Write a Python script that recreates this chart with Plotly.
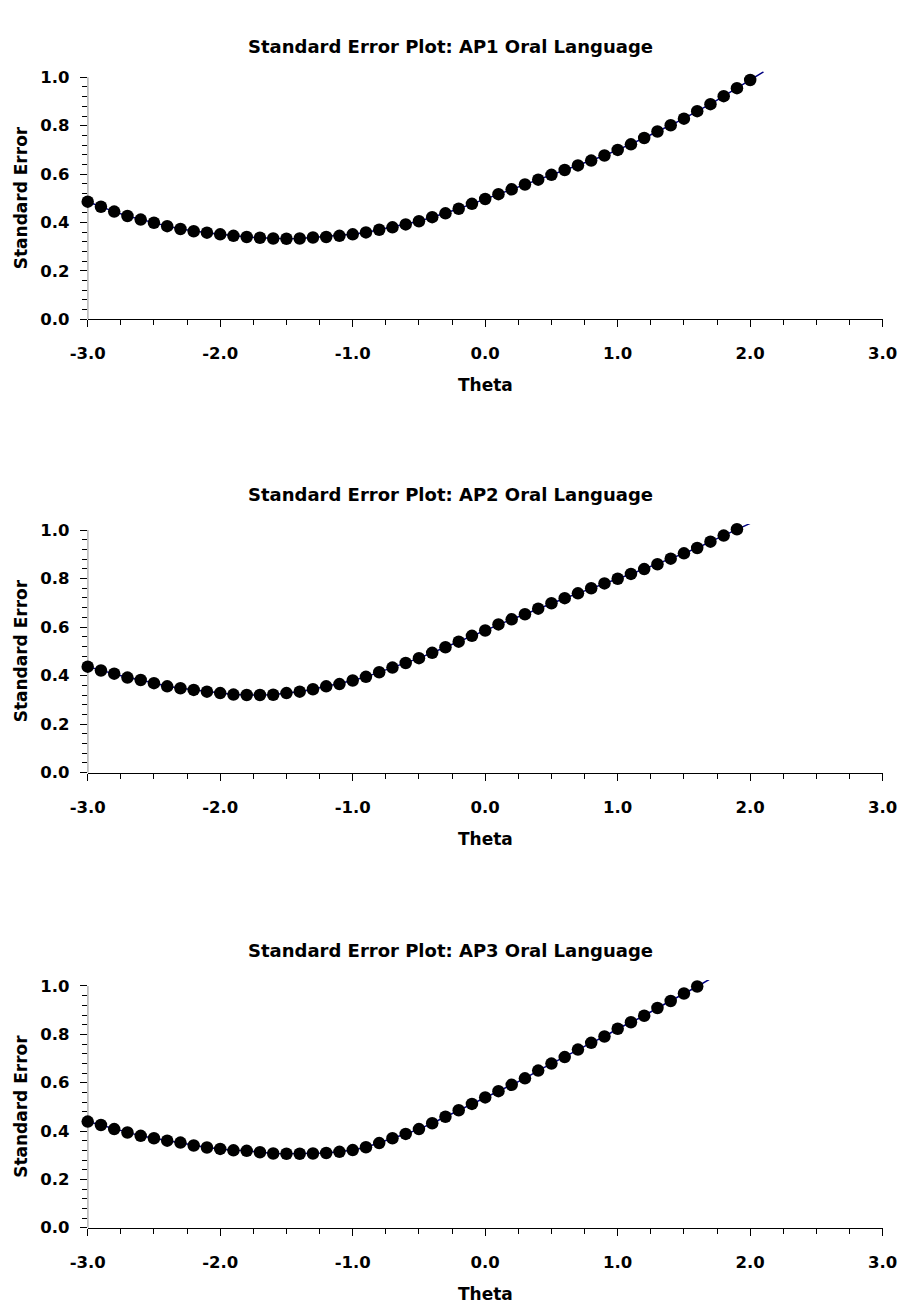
import plotly.graph_objects as go

# ---------------- data ----------------
titles = ["Standard Error Plot: AP1 Oral Language",
          "Standard Error Plot: AP2 Oral Language",
          "Standard Error Plot: AP3 Oral Language"]

x_tickvals = [-3.0, -2.0, -1.0, 0.0, 1.0, 2.0, 3.0]
x_ticktext = ["-3.0", "-2.0", "-1.0", "0.0", "1.0", "2.0", "3.0"]
y_tickvals = [0.0, 0.2, 0.4, 0.6, 0.8, 1.0]
y_ticktext = ["0.0", "0.2", "0.4", "0.6", "0.8", "1.0"]

theta_ap1 = [-3.0, -2.9, -2.8, -2.7, -2.6, -2.5, -2.4, -2.3, -2.2, -2.1,
             -2.0, -1.9, -1.8, -1.7, -1.6, -1.5, -1.4, -1.3, -1.2, -1.1,
             -1.0, -0.9, -0.8, -0.7, -0.6, -0.5, -0.4, -0.3, -0.2, -0.1,
             0.0, 0.1, 0.2, 0.3, 0.4, 0.5, 0.6, 0.7, 0.8, 0.9,
             1.0, 1.1, 1.2, 1.3, 1.4, 1.5, 1.6, 1.7, 1.8, 1.9, 2.0]
se_ap1 = [0.486, 0.465, 0.445, 0.427, 0.412, 0.399, 0.385, 0.373, 0.364, 0.358,
          0.351, 0.345, 0.340, 0.337, 0.334, 0.333, 0.334, 0.338, 0.340, 0.345,
          0.351, 0.359, 0.370, 0.380, 0.392, 0.405, 0.422, 0.438, 0.457, 0.477,
          0.497, 0.517, 0.537, 0.557, 0.577, 0.597, 0.617, 0.636, 0.656, 0.677,
          0.700, 0.723, 0.749, 0.776, 0.802, 0.829, 0.860, 0.889, 0.922, 0.955, 0.989]
curve_end_ap1 = (2.1, 1.022)

theta_ap2 = [-3.0, -2.9, -2.8, -2.7, -2.6, -2.5, -2.4, -2.3, -2.2, -2.1,
             -2.0, -1.9, -1.8, -1.7, -1.6, -1.5, -1.4, -1.3, -1.2, -1.1,
             -1.0, -0.9, -0.8, -0.7, -0.6, -0.5, -0.4, -0.3, -0.2, -0.1,
             0.0, 0.1, 0.2, 0.3, 0.4, 0.5, 0.6, 0.7, 0.8, 0.9,
             1.0, 1.1, 1.2, 1.3, 1.4, 1.5, 1.6, 1.7, 1.8, 1.9]
se_ap2 = [0.437, 0.421, 0.408, 0.392, 0.382, 0.369, 0.356, 0.348, 0.341, 0.334,
          0.328, 0.322, 0.320, 0.320, 0.321, 0.328, 0.334, 0.344, 0.356, 0.365,
          0.380, 0.395, 0.414, 0.433, 0.452, 0.472, 0.494, 0.517, 0.540, 0.564,
          0.586, 0.611, 0.632, 0.653, 0.676, 0.698, 0.719, 0.739, 0.760, 0.780,
          0.799, 0.819, 0.839, 0.859, 0.882, 0.904, 0.926, 0.952, 0.977, 1.003]
curve_end_ap2 = (2.0, 1.027)

theta_ap3 = [-3.0, -2.9, -2.8, -2.7, -2.6, -2.5, -2.4, -2.3, -2.2, -2.1,
             -2.0, -1.9, -1.8, -1.7, -1.6, -1.5, -1.4, -1.3, -1.2, -1.1,
             -1.0, -0.9, -0.8, -0.7, -0.6, -0.5, -0.4, -0.3, -0.2, -0.1,
             0.0, 0.1, 0.2, 0.3, 0.4, 0.5, 0.6, 0.7, 0.8, 0.9,
             1.0, 1.1, 1.2, 1.3, 1.4, 1.5, 1.6]
se_ap3 = [0.439, 0.425, 0.408, 0.394, 0.380, 0.370, 0.360, 0.352, 0.340, 0.332,
          0.326, 0.320, 0.318, 0.312, 0.307, 0.306, 0.306, 0.307, 0.309, 0.314,
          0.321, 0.333, 0.350, 0.370, 0.388, 0.408, 0.432, 0.459, 0.486, 0.512,
          0.539, 0.565, 0.591, 0.618, 0.650, 0.679, 0.706, 0.737, 0.765, 0.791,
          0.823, 0.850, 0.877, 0.909, 0.938, 0.969, 0.998]
curve_end_ap3 = (1.7, 1.030)

x_title = "Theta"
y_title = "Standard Error"

panels = [(theta_ap1, se_ap1, curve_end_ap1),
          (theta_ap2, se_ap2, curve_end_ap2),
          (theta_ap3, se_ap3, curve_end_ap3)]

# ---------------- layout geometry (pixels) ----------------
W, H = 901, 1310
FONT = "DejaVu Sans"
x_left, x_right = 87.7, 882.7
# (pixel y of value 0, pixel y of value 1.0)
panel_px = [(319.3, 77.3), (772.7, 530.0), (1227.7, 986.0)]
title_py = [46, 494, 950]
YTOP = 1.025

fig = go.Figure()
annotations = []
shapes = []
layout_axes = {}

for i, ((tx, se, end), (p0, p1), tpy) in enumerate(zip(panels, panel_px, title_py)):
    n = "" if i == 0 else str(i + 1)
    xa, ya = "x" + n, "y" + n
    scale = (p0 - p1)  # px per unit
    top_px = p0 - YTOP * scale
    dom_y = [1 - p0 / H, 1 - top_px / H]

    # smooth curve (navy) – continues slightly beyond last point
    fig.add_trace(go.Scatter(x=tx + [end[0]], y=se + [end[1]], mode="lines",
                             line=dict(color="#000080", width=1.5),
                             xaxis=xa, yaxis=ya, showlegend=False,
                             cliponaxis=True, hoverinfo="skip"))
    fig.add_trace(go.Scatter(x=tx, y=se, mode="markers",
                             marker=dict(color="black", size=12.5),
                             xaxis=xa, yaxis=ya, showlegend=False,
                             cliponaxis=False))

    layout_axes["xaxis" + n] = dict(
        domain=[x_left / W, x_right / W], range=[-3, 3], anchor=ya,
        tickmode="array", tickvals=x_tickvals, ticktext=x_ticktext,
        ticks="outside", ticklen=7, tickwidth=1, tickcolor="black",
        showline=True, linecolor="black", linewidth=1,
        showgrid=False, zeroline=False, ticklabelstandoff=12,
        tickfont=dict(family=FONT, size=16.5, color="black", weight="bold"),
        minor=dict(dtick=0.25, tick0=-3, ticks="outside", ticklen=5,
                   tickcolor="black", tickwidth=1, showgrid=False),
        automargin=False, fixedrange=True)
    layout_axes["yaxis" + n] = dict(
        domain=dom_y, range=[0, YTOP], anchor=xa,
        tickmode="array", tickvals=y_tickvals, ticktext=y_ticktext,
        ticks="outside", ticklen=7, tickwidth=1, tickcolor="black",
        showline=False, showgrid=False, zeroline=False, ticklabelstandoff=7,
        tickfont=dict(family=FONT, size=16.5, color="black", weight="bold"),
        minor=dict(tickvals=[0.04 * k for k in range(1, 25) if k % 5 != 0],
                   ticks="outside", ticklen=5, tickcolor="black", tickwidth=1,
                   showgrid=False),
        automargin=False, fixedrange=True)

    # y axis line only from 0 to 1.0
    shapes.append(dict(type="line", xref=xa, yref=ya, x0=-3, x1=-3, y0=0, y1=1.0,
                       line=dict(color="black", width=1)))

    annotations.append(dict(text=titles[i], xref="paper", yref="paper",
                            x=0.5, y=1 - tpy / H, showarrow=False,
                            xanchor="center", yanchor="middle",
                            font=dict(family=FONT, size=18, color="black", weight="bold")))
    annotations.append(dict(text=x_title, xref="paper", yref="paper",
                            x=(x_left + x_right) / 2 / W, y=1 - (p0 + 66) / H,
                            showarrow=False, xanchor="center", yanchor="middle",
                            font=dict(family=FONT, size=17, color="black", weight="bold")))
    annotations.append(dict(text=y_title, xref="paper", yref="paper",
                            x=21 / W, y=1 - ((p0 + p1) / 2) / H, textangle=-90,
                            showarrow=False, xanchor="center", yanchor="middle",
                            font=dict(family=FONT, size=17, color="black", weight="bold")))

fig.update_layout(width=W, height=H, margin=dict(l=0, r=0, t=0, b=0),
                  paper_bgcolor="white", plot_bgcolor="white",
                  annotations=annotations, shapes=shapes, **layout_axes)

fig.write_html("out.html", config={"displayModeBar": False})
